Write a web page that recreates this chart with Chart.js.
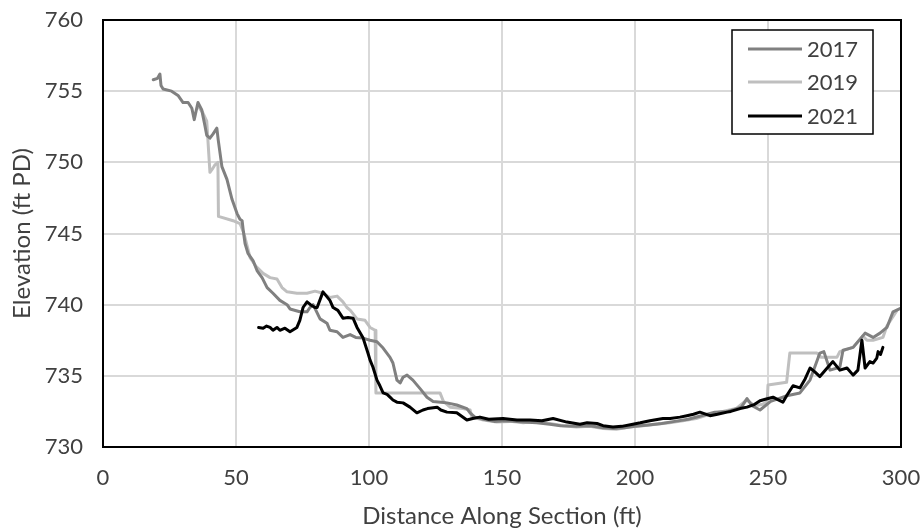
<!DOCTYPE html>
<html>
<head>
<meta charset="utf-8">
<script src="https://cdn.jsdelivr.net/npm/chart.js@4"></script>
<style>
  html, body { margin: 0; padding: 0; background: #fff; }
  #wrap { width: 922px; height: 531px; }
</style>
</head>
<body>
<div id="wrap"><canvas id="myChart" width="922" height="531"></canvas></div>
<script>
// distance along section (ft) and elevation (ft PD) for each survey
const x2017 = [
  18.9, 20.5, 21.4, 21.8, 22.6, 25.8, 28.2, 30.1, 32, 33.4,
  34.3, 35.7, 37.1, 38.3, 39, 40.2, 41.4, 42.8, 43.3, 44.7,
  46.6, 48.5, 50.4, 51.5, 52.3, 52.8, 53.4, 54.5, 56.4, 57.9,
  59.8, 61.7, 63.9, 66.5, 69.2, 70.3, 74, 76.7, 77.8, 79,
  81.6, 84.2, 85.3, 88, 90.2, 92.9, 95, 97.7, 100.4, 103,
  105.3, 107.9, 109, 110.5, 111.7, 112.8, 114.3, 116.5, 119.2, 121.8,
  124.1, 127, 129.3, 133, 136.8, 138, 139.8, 143, 147, 152,
  158, 163, 168, 172, 178, 183, 188, 192, 196, 200,
  205, 210, 215, 220, 225, 230, 235, 240, 242.1, 244,
  247, 251, 254, 257.1, 262, 265.8, 269.5, 271, 273.3, 277,
  278.2, 282, 286.5, 289.5, 292.1, 294.7, 297, 300
];
const y2017 = [
  755.8, 755.9, 756.2, 755.4, 755.15, 755.0, 754.7, 754.2, 754.2, 753.8,
  753.0, 754.2, 753.7, 752.6, 751.9, 751.7, 752.0, 752.4, 751.6, 749.7,
  748.8, 747.4, 746.4, 746.0, 745.9, 745.1, 744.3, 743.6, 743.1, 742.4,
  741.9, 741.2, 740.8, 740.3, 740.0, 739.7, 739.5, 739.5, 739.8, 740.0,
  739.0, 738.7, 738.2, 738.1, 737.7, 737.9, 737.7, 737.65, 737.5, 737.4,
  736.95, 736.3, 735.9, 734.7, 734.5, 734.9, 735.05, 734.7, 734.1, 733.5,
  733.2, 733.15, 733.1, 732.95, 732.7, 732.4, 732.1, 731.95, 731.8, 731.85,
  731.75, 731.7, 731.6, 731.5, 731.45, 731.5, 731.35, 731.3, 731.35, 731.45,
  731.55, 731.65, 731.8, 731.95, 732.2, 732.45, 732.5, 732.8, 733.4, 732.9,
  732.6, 733.2, 733.4, 733.6, 733.8, 734.7, 736.6, 736.7, 735.4, 735.6,
  736.8, 737.0, 738.0, 737.7, 738.0, 738.4, 739.5, 739.75
];

const x2019 = [
  35.5, 37.5, 39, 40.2, 41, 42, 43.2, 43.4, 48.9, 51.5,
  53, 55.3, 57.5, 60.2, 62.8, 65.4, 67.3, 69.2, 72.9, 76.7,
  79.7, 82.7, 85.3, 88, 90.2, 91.7, 93, 95.5, 98.5, 100.4,
  102.3, 102.6, 118, 126.7, 128, 130.5, 135.3, 138, 138.7, 143,
  148, 153, 158, 163, 168, 173, 178, 183, 188, 193,
  198, 203, 208, 213, 218, 223, 228, 233, 238, 242,
  245, 248, 249.7, 250, 257, 258.2, 268.4, 270, 275.9, 277,
  282, 285.7, 287.2, 289.5, 293.2, 294.7, 298.5
];
const y2019 = [
  754.0, 753.5, 752.9, 749.3, 749.5, 749.8, 750.0, 746.2, 745.9, 745.7,
  745.0, 743.3, 742.7, 742.2, 741.9, 741.8, 741.2, 740.9, 740.8, 740.8,
  740.95, 740.8, 740.5, 740.6, 740.2, 739.8, 739.6, 739.0, 738.9, 738.4,
  738.2, 733.8, 733.8, 733.8, 733.2, 732.8, 732.7, 732.6, 732.1, 731.9,
  731.75, 731.8, 731.7, 731.8, 731.65, 731.5, 731.4, 731.45, 731.3, 731.25,
  731.4, 731.5, 731.6, 731.7, 731.85, 732.0, 732.3, 732.5, 732.7, 733.3,
  732.9, 733.0, 733.2, 734.35, 734.55, 736.6, 736.6, 736.3, 736.3, 736.7,
  737.0, 737.8, 737.5, 737.5, 737.7, 738.5, 739.6
];

const x2021 = [
  58.5, 60.2, 61.5, 62.8, 63.9, 65.4, 66.5, 68.4, 70.3, 72.9,
  74, 75.2, 76.7, 78, 79.7, 80.5, 82.7, 85.3, 86.5, 88.3,
  90.2, 92.1, 94, 95.5, 97.7, 99.6, 100.4, 101.5, 103, 104.1,
  105.3, 106.8, 107.9, 109, 110.5, 112.8, 115.4, 118, 120.3, 122,
  125.6, 127, 129.3, 133, 136.8, 139, 141.7, 145, 150.4, 155.6,
  160.5, 165, 169.2, 174.4, 179.3, 182, 185.7, 188, 191.7, 195,
  199.2, 202, 205.6, 210.5, 213.2, 216.9, 219.5, 222, 224.4, 226,
  228.2, 231, 234.6, 236, 239.5, 242.1, 245, 247, 249, 251.9,
  253.5, 255.6, 257, 259.4, 262, 264, 265.8, 267.5, 269.5, 272,
  274.4, 277, 279.7, 282, 283.8, 285.3, 286.5, 288.3, 289.5, 290.9,
  291.4, 292.3, 293.2
];
const y2021 = [
  738.4, 738.35, 738.5, 738.4, 738.2, 738.4, 738.2, 738.35, 738.1, 738.4,
  738.9, 739.8, 740.2, 740.0, 739.8, 739.8, 740.9, 740.3, 739.8, 739.6,
  739.05, 739.1, 739.05, 738.4, 737.7, 736.6, 736.1, 735.6, 734.7, 734.3,
  733.8, 733.7, 733.5, 733.3, 733.15, 733.1, 732.8, 732.4, 732.6, 732.7,
  732.8, 732.6, 732.45, 732.4, 731.9, 732.0, 732.1, 731.95, 732.0, 731.9,
  731.9, 731.85, 732.0, 731.75, 731.6, 731.7, 731.65, 731.5, 731.4, 731.45,
  731.6, 731.7, 731.85, 732.0, 732.0, 732.1, 732.2, 732.3, 732.45, 732.35,
  732.2, 732.3, 732.45, 732.5, 732.7, 732.8, 733.0, 733.25, 733.35, 733.5,
  733.35, 733.15, 733.6, 734.3, 734.15, 734.8, 735.55, 735.3, 734.95, 735.5,
  736.0, 735.4, 735.55, 735.05, 735.4, 737.5, 735.55, 736.0, 735.9, 736.25,
  736.7, 736.5, 737.0
];

const xTicks = [0, 50, 100, 150, 200, 250, 300];
const yTicks = [730, 735, 740, 745, 750, 755, 760];

const textColor = "#404040";
const fontFamily = "Lato, 'Noto Sans', sans-serif";

function toPoints(xs, ys) {
  return xs.map((v, i) => ({ x: v, y: ys[i] }));
}

// black frame round the plot area + legend box in the top right corner
const frameAndLegend = {
  id: "frameAndLegend",
  afterDatasetsDraw(chart) {
    const { ctx, chartArea } = chart;
    ctx.save();
    ctx.strokeStyle = "#000";
    ctx.lineWidth = 2;
    ctx.strokeRect(chartArea.left, chartArea.top,
      chartArea.right - chartArea.left, chartArea.bottom - chartArea.top);

    const bx = 732, by = 30, bw = 141, bh = 104;
    ctx.fillStyle = "#fff";
    ctx.fillRect(bx, by, bw, bh);
    ctx.lineWidth = 1.5;
    ctx.strokeRect(bx, by, bw, bh);

    const rows = [49, 82, 116];
    ctx.font = "22px " + fontFamily;
    ctx.textBaseline = "middle";
    chart.data.datasets.forEach((ds, i) => {
      ctx.strokeStyle = ds.borderColor;
      ctx.lineWidth = ds.borderWidth;
      ctx.beginPath();
      ctx.moveTo(748, rows[i]);
      ctx.lineTo(802, rows[i]);
      ctx.stroke();
      ctx.fillStyle = textColor;
      ctx.fillText(ds.label, 807, rows[i] + 1);
    });
    ctx.restore();
  },
};

const myChart = document.getElementById("myChart").getContext("2d");

const sectionChart = new Chart(myChart, {
  type: "line",
  data: {
    datasets: [
      {
        label: "2017",
        data: toPoints(x2017, y2017),
        borderColor: "#808080",
        borderWidth: 3,
        order: 1,
      },
      {
        label: "2019",
        data: toPoints(x2019, y2019),
        borderColor: "#bfbfbf",
        borderWidth: 3,
        order: 2,
      },
      {
        label: "2021",
        data: toPoints(x2021, y2021),
        borderColor: "#000000",
        borderWidth: 3,
        order: 0,
      },
    ],
  },
  options: {
    responsive: false,
    animation: false,
    layout: { padding: { left: 0, right: 21, top: 20, bottom: 0 } },
    elements: {
      point: { radius: 0 },
      line: { tension: 0, borderJoinStyle: "round", borderCapStyle: "round" },
    },
    plugins: {
      legend: { display: false },
      tooltip: { enabled: false },
    },
    scales: {
      x: {
        type: "linear",
        min: 0,
        max: 300,
        afterBuildTicks: (scale) => {
          scale.ticks = xTicks.map((v) => ({ value: v }));
        },
        afterFit: (scale) => {
          scale.height = 84;
          scale.paddingLeft = 0;
          scale.paddingRight = 0;
        },
        grid: { color: "#d9d9d9", lineWidth: 2, drawTicks: false },
        border: { display: false },
        ticks: {
          color: textColor,
          font: { family: fontFamily, size: 22 },
          padding: 18,
          maxRotation: 0,
        },
        title: {
          display: true,
          text: "Distance Along Section (ft)",
          color: textColor,
          font: { family: fontFamily, size: 24 },
          padding: { top: 0, bottom: 0 },
        },
      },
      y: {
        type: "linear",
        min: 730,
        max: 760,
        afterBuildTicks: (scale) => {
          scale.ticks = yTicks.map((v) => ({ value: v }));
        },
        afterFit: (scale) => {
          scale.width = 103;
          scale.paddingTop = 0;
          scale.paddingBottom = 0;
        },
        grid: { color: "#d9d9d9", lineWidth: 2, drawTicks: false },
        border: { display: false },
        ticks: {
          color: textColor,
          font: { family: fontFamily, size: 22 },
          padding: 20,
        },
        title: {
          display: true,
          text: "Elevation (ft PD)",
          color: textColor,
          font: { family: fontFamily, size: 24 },
          padding: { top: 8, bottom: 0 },
        },
      },
    },
  },
  plugins: [frameAndLegend],
});
</script>
</body>
</html>
